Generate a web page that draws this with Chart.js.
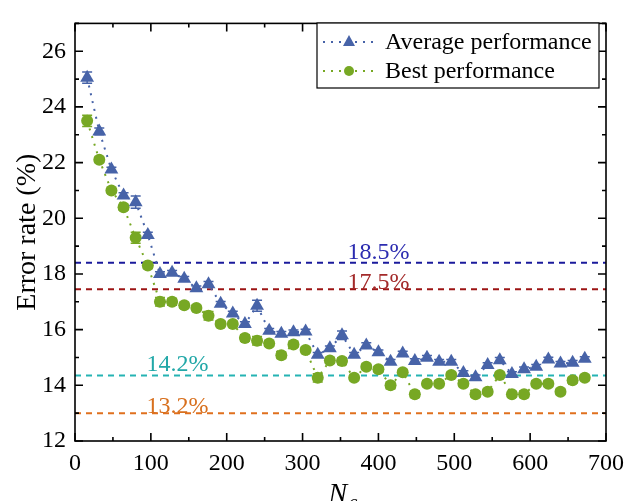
<!DOCTYPE html>
<html><head><meta charset="utf-8">
<script src="https://cdn.jsdelivr.net/npm/chart.js@4.4.0/dist/chart.umd.min.js"></script>
<style>html,body{margin:0;padding:0;background:#fff}#wrap{width:632px;height:501px}</style>
</head><body><div id="wrap"><canvas id="c" width="632" height="501"></canvas></div>
<script>
const nc = [16,32,48,64,80,96,112,128,144,160,176,192,208,224,240,256,272,288,304,320,336,352,368,384,400,416,432,448,464,480,496,512,528,544,560,576,592,608,624,640,656,672];
const avgPerf = [25.05,23.12,21.75,20.82,20.58,19.4,18.0,18.04,17.83,17.49,17.63,16.93,16.58,16.2,16.86,15.96,15.85,15.91,15.93,15.1,15.33,15.8,15.1,15.43,15.19,14.85,15.14,14.87,14.99,14.85,14.85,14.44,14.29,14.73,14.9,14.41,14.58,14.67,14.93,14.78,14.81,14.95];
const avgErr = [0.2,0.12,0.08,0.1,0.22,0.1,0.08,0.08,0.08,0.08,0.1,0.08,0.08,0.08,0.2,0.08,0.08,0.08,0.08,0.08,0.08,0.15,0.08,0.1,0.08,0.08,0.08,0.08,0.08,0.08,0.08,0.08,0.08,0.08,0.1,0.08,0.08,0.08,0.08,0.08,0.08,0.08];
const bestPerf = [23.5,22.1,21.0,20.4,19.3,18.3,17.0,17.0,16.88,16.78,16.5,16.2,16.2,15.7,15.6,15.5,15.08,15.47,15.27,14.27,14.89,14.87,14.27,14.67,14.58,14.0,14.47,13.68,14.06,14.06,14.37,14.06,13.68,13.77,14.37,13.68,13.68,14.06,14.06,13.77,14.18,14.27];
const bestErr = [0.2,0.1,0.08,0.1,0.2,0.1,0.15,0.12,0.1,0.1,0.15,0.1,0.1,0.12,0.15,0.1,0.12,0.1,0.1,0.15,0.1,0.12,0.1,0.1,0.1,0.12,0.1,0.12,0.1,0.1,0.1,0.1,0.1,0.1,0.1,0.1,0.12,0.1,0.1,0.1,0.1,0.1];
const refValues = [18.4,17.45,14.35,13.0];
const refLabels = ['18.5%','17.5%','14.2%','13.2%'];
const refLabelX = [400,400,135,135];
const refLabelY = [18.55,17.45,14.5,13.0];
const refColors = ['#1a1a9c','#9c1414','#25b3b3','#e0701e'];
const refTextColors = ['#2c2cb0','#a32a2a','#22a8a8','#d8701e'];
const seriesLabels = ['Average performance','Best performance'];
const seriesColors = ['#4763a8','#77a824'];
const xTicks = [0,100,200,300,400,500,600,700];
const yTicks = [12,14,16,18,20,22,24,26];

const SERIF = '"Liberation Serif","Times New Roman",serif';

const datasets = [];
refValues.forEach((v,i)=>{
  datasets.push({type:'line',data:[{x:0,y:v},{x:700,y:v}],borderColor:refColors[i],borderWidth:2,borderDash:[6,5],pointRadius:0,fill:false,order:5});
});
datasets.push({label:seriesLabels[0],data:nc.map((x,i)=>({x,y:avgPerf[i]})),err:avgErr,borderColor:seriesColors[0],backgroundColor:seriesColors[0],borderWidth:2,borderDash:[2,6],pointStyle:'triangle',pointRadius:8,pointBorderWidth:0,showLine:true,order:1});
datasets.push({label:seriesLabels[1],data:nc.map((x,i)=>({x,y:bestPerf[i]})),err:bestErr,borderColor:seriesColors[1],backgroundColor:seriesColors[1],borderWidth:2,borderDash:[2,6],pointStyle:'circle',pointRadius:6,pointBorderWidth:0,showLine:true,order:2});

const deco = {
  id:'deco',
  beforeDatasetsDraw(chart){
    const ctx=chart.ctx, xs=chart.scales.x, ys=chart.scales.y;
    chart.data.datasets.forEach(ds=>{
      if(!ds.err) return;
      ctx.save(); ctx.strokeStyle=ds.borderColor; ctx.lineWidth=1.5;
      ds.data.forEach((p,i)=>{
        const e=ds.err[i]; const px=xs.getPixelForValue(p.x);
        const y1=ys.getPixelForValue(p.y+e), y2=ys.getPixelForValue(p.y-e);
        ctx.beginPath(); ctx.moveTo(px,y1); ctx.lineTo(px,y2);
        ctx.moveTo(px-5,y1); ctx.lineTo(px+5,y1);
        ctx.moveTo(px-5,y2); ctx.lineTo(px+5,y2); ctx.stroke();
      });
      ctx.restore();
    });
  },
  afterDraw(chart){
    const ctx=chart.ctx, xs=chart.scales.x, ys=chart.scales.y, a=chart.chartArea;
    ctx.save();
    ctx.font='24px '+SERIF; ctx.textAlign='center'; ctx.textBaseline='alphabetic';
    refValues.forEach((v,i)=>{
      ctx.fillStyle=refTextColors[i];
      ctx.fillText(refLabels[i], xs.getPixelForValue(refLabelX[i]), ys.getPixelForValue(refLabelY[i]));
    });
    ctx.strokeStyle='#000'; ctx.lineWidth=1.6;
    ctx.strokeRect(a.left,a.top,a.right-a.left,a.bottom-a.top);
    ctx.beginPath();
    for(let v=0; v<=700; v+=50){
      const px=xs.getPixelForValue(v); const L=(v%100===0)?8:4;
      ctx.moveTo(px,a.bottom); ctx.lineTo(px,a.bottom-L);
      ctx.moveTo(px,a.top); ctx.lineTo(px,a.top+L);
    }
    for(let v=12; v<=27; v+=1){
      const py=ys.getPixelForValue(v); const L=(v%2===0)?8:4;
      ctx.moveTo(a.left,py); ctx.lineTo(a.left+L,py);
      ctx.moveTo(a.right,py); ctx.lineTo(a.right-L,py);
    }
    ctx.stroke();
    ctx.fillStyle='#000';
    ctx.save(); ctx.translate(28,(a.top+a.bottom)/2); ctx.rotate(-Math.PI/2);
    ctx.font='28px '+SERIF; ctx.textAlign='center'; ctx.textBaseline='middle';
    ctx.fillText('Error rate (%)',0,0); ctx.restore();
    ctx.font='italic 28px '+SERIF; ctx.textAlign='left'; ctx.textBaseline='alphabetic';
    const cx=(a.left+a.right)/2;
    ctx.fillText('N',cx-12,502);
    ctx.font='italic 20px '+SERIF; ctx.fillText('c',cx+8,509);
    const bx=317, by=23, bw=282, bh=65;
    ctx.fillStyle='#fff'; ctx.fillRect(bx,by,bw,bh);
    ctx.strokeStyle='#000'; ctx.lineWidth=1.2; ctx.strokeRect(bx,by,bw,bh);
    const sets=chart.data.datasets.filter(d=>d.label);
    sets.forEach((d,i)=>{
      const ry=by+19+i*29;
      ctx.save(); ctx.strokeStyle=d.borderColor; ctx.lineWidth=2; ctx.setLineDash([2,6]);
      ctx.beginPath(); ctx.moveTo(bx+6,ry); ctx.lineTo(bx+58,ry); ctx.stroke(); ctx.restore();
      ctx.fillStyle=d.backgroundColor; ctx.beginPath();
      if(d.pointStyle==='triangle'){ ctx.moveTo(bx+32,ry-7); ctx.lineTo(bx+38,ry+4); ctx.lineTo(bx+26,ry+4); ctx.closePath(); }
      else { ctx.arc(bx+32,ry,5,0,Math.PI*2); }
      ctx.fill();
      ctx.fillStyle='#000'; ctx.font='24px '+SERIF; ctx.textAlign='left'; ctx.textBaseline='middle';
      ctx.fillText(d.label,bx+68,ry+1);
    });
    ctx.restore();
  }
};

new Chart(document.getElementById('c'),{
  type:'scatter',
  data:{datasets},
  options:{
    responsive:false, animation:false,
    layout:{padding:{left:0,right:22,top:11,bottom:0}},
    plugins:{legend:{display:false},tooltip:{enabled:false}},
    scales:{
      x:{type:'linear',min:0,max:700,afterFit(s){s.height=60;},
        afterBuildTicks(s){s.ticks=xTicks.map(v=>({value:v}));},
        grid:{display:false,drawTicks:false},border:{display:false},
        ticks:{color:'#000',padding:8,maxRotation:0,font:{family:SERIF,size:24}}},
      y:{type:'linear',min:12,max:27,afterFit(s){s.width=75;},
        afterBuildTicks(s){s.ticks=yTicks.map(v=>({value:v}));},
        grid:{display:false,drawTicks:false},border:{display:false},
        ticks:{color:'#000',padding:9,font:{family:SERIF,size:24}}}
    }
  },
  plugins:[deco]
});
</script></body></html>
